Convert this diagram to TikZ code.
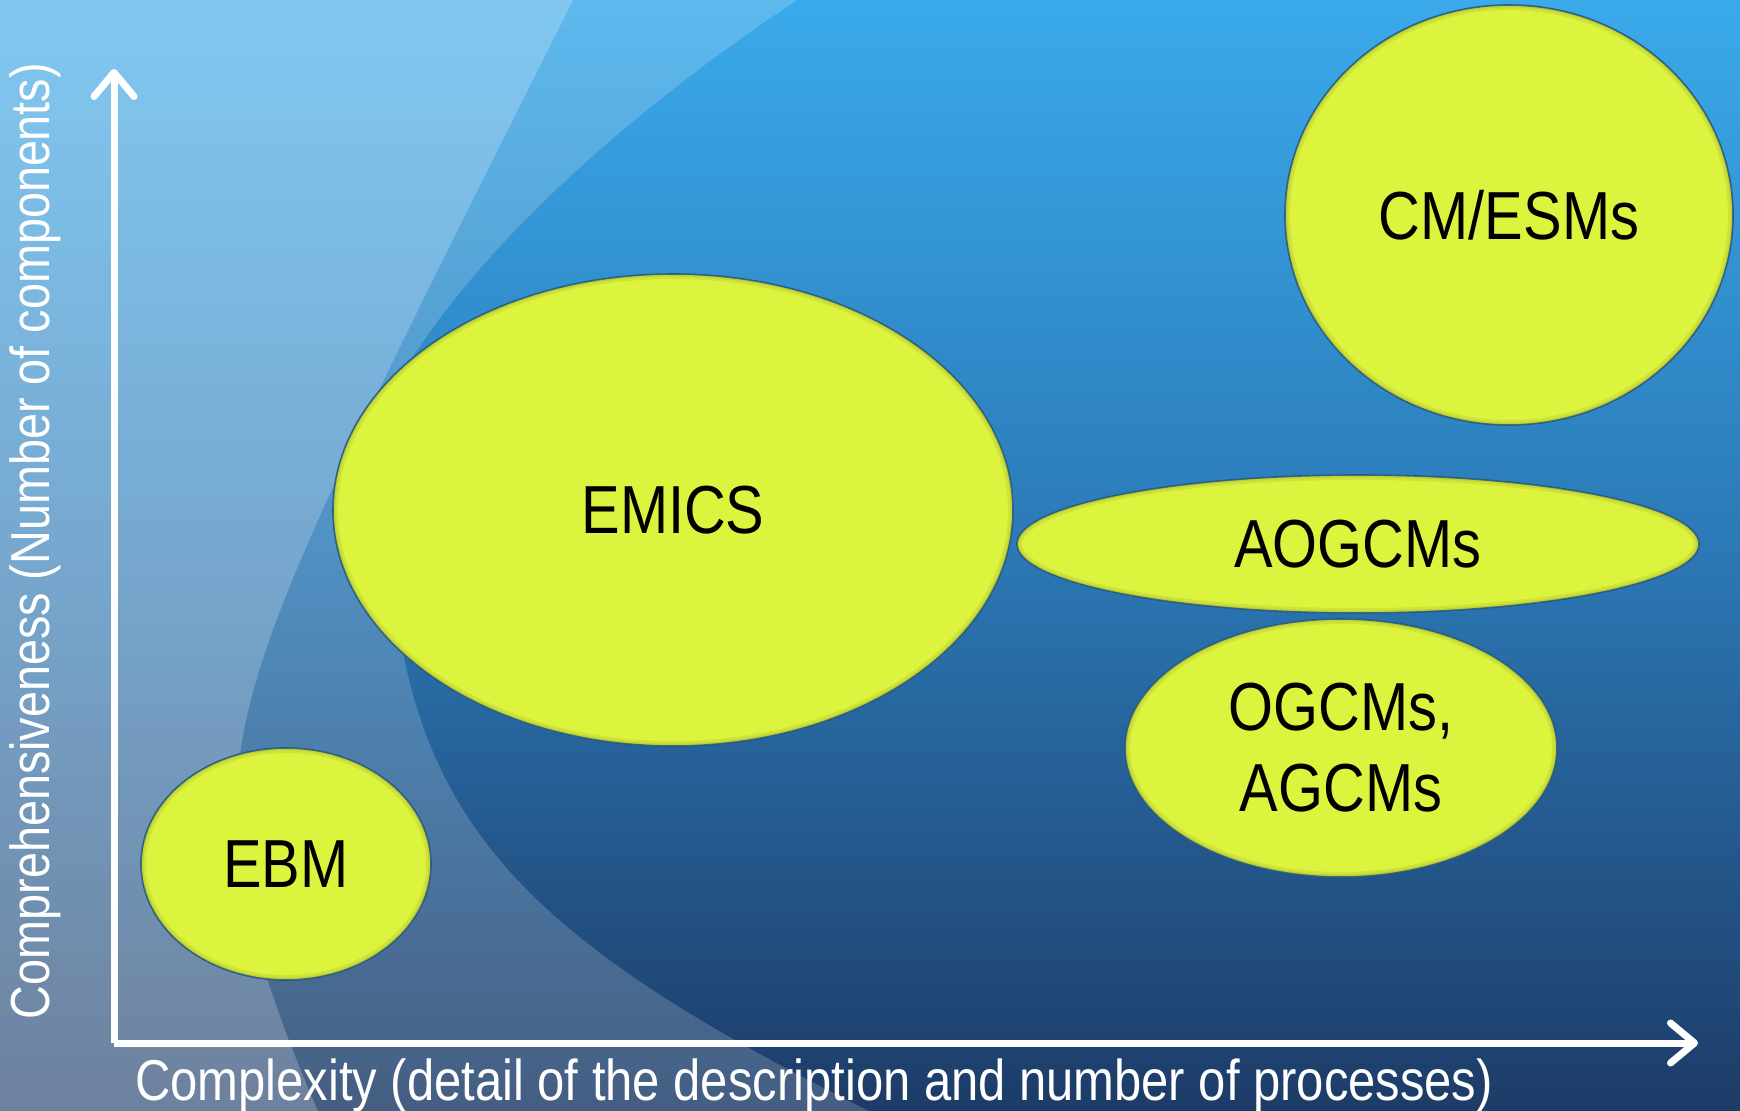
\documentclass[tikz,border=0pt]{standalone}
\usepackage{fontspec}
\newfontfamily\labfont[FakeStretch=0.85]{Liberation Sans}
\usetikzlibrary{shapes.geometric,arrows.meta}
\definecolor{bgtop}{HTML}{3AAAEB}
\definecolor{bgmid}{HTML}{2B78B5}
\definecolor{bgbot}{HTML}{1D3B67}
\definecolor{ellfill}{HTML}{DDF43E}
\definecolor{elldraw}{HTML}{1F5A8A}
\definecolor{rimcol}{HTML}{8C9628}
\newcommand\bubblerim[3]{%
  \begin{scope}
    \clip (#1.center) ellipse [x radius=#2, y radius=#3];
    \draw[rimwide] (#1.center) ellipse [x radius=#2, y radius=#3];
    \draw[rimthin] (#1.center) ellipse [x radius=#2, y radius=#3];
  \end{scope}}
\begin{document}
\begin{tikzpicture}[x=0.5pt,y=-0.5pt,
  bubble/.style={ellipse, fill=ellfill, draw=elldraw, line width=0.8pt, inner sep=0pt,
    font=\labfont\fontsize{34}{40.5}\selectfont, text=black, align=center},
  rimwide/.style={draw=rimcol, draw opacity=0.16, line width=5pt},
  rimthin/.style={draw=rimcol, draw opacity=0.22, line width=2.4pt},
  axisline/.style={draw=white, line width=3.5pt,
    -{Straight Barb[length=12pt,width=20pt,line cap=round,line join=round]}},
  axislabel/.style={text=white, inner sep=0pt}]
\useasboundingbox (0,0) rectangle (1740,1110);
\shade[top color=bgtop, bottom color=bgbot, middle color=bgmid] (0,0) rectangle (1740,1110);
\begin{scope}
\clip (0,0) rectangle (1740,1110);
\fill[white, opacity=0.18] (-20,-40) -- (857,-40) -- (797,0) .. controls (497,200) and (352,400) .. (352,520) .. controls (352,565) and (394,608) .. (403,653) .. controls (443,853) and (567,960) .. (867,1110) -- (947,1150) -- (-20,1150) -- cycle;
\fill[white, opacity=0.22] (-20,-40) -- (593,-40) .. controls (318,510) and (236,660) .. (236,810) .. controls (236,910) and (281,1030) .. (335,1150) -- (-20,1150) -- cycle;
\end{scope}
\node[bubble, minimum width=145pt, minimum height=116pt] (ebm) at (286,864) {EBM};
\node[bubble, minimum width=340pt, minimum height=236pt] (emics) at (673,510) {EMICS};
\node[bubble, minimum width=224pt, minimum height=210pt] (cmesm) at (1509,215) {CM/ESMs};
\node[bubble, minimum width=341pt, minimum height=69pt] (aogcm) at (1358,544) {AOGCMs};
\node[bubble, minimum width=216pt, minimum height=129pt] (ogcm) at (1341,748) {OGCMs,\\AGCMs};
\bubblerim{ebm}{72.5pt}{58pt}
\bubblerim{emics}{170pt}{118pt}
\bubblerim{cmesm}{112pt}{105pt}
\bubblerim{aogcm}{170.5pt}{34.5pt}
\bubblerim{ogcm}{108pt}{64.5pt}
\coordinate (origin) at (114,1043);
\coordinate (ytop) at (114,69);
\coordinate (xend) at (1698,1043);
\draw[axisline] (origin) -- (ytop);
\draw[axisline] (origin) -- (xend);
\node[axislabel, rotate=90, font=\labfont\fontsize{27.5}{30}\selectfont] (ylab) at (35,541) {Comprehensiveness (Number of components)};
\node[axislabel, font=\labfont\fontsize{28.8}{30}\selectfont] (xlab) at (814,1086) {Complexity (detail of the description and number of processes)};
\end{tikzpicture}
\end{document}
